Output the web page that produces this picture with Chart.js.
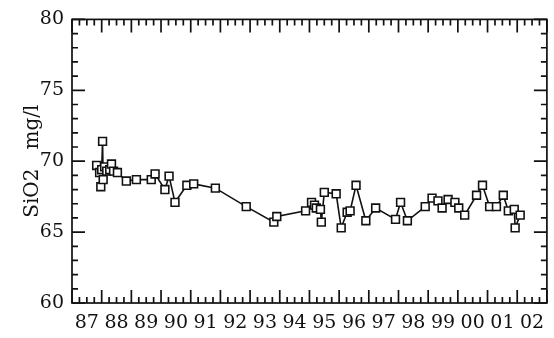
<!DOCTYPE html>
<html>
<head>
<meta charset="utf-8">
<script src="https://cdn.jsdelivr.net/npm/chart.js@4"></script>
<style>
    html, body { margin: 0; padding: 0; background: #fff; }
</style>
</head>
<body>
<canvas id="sio2-chart" width="554" height="338"></canvas>
<script>
// --- Data ---
const SAMPLE_YEARS = [
    1987.83, 1987.93, 1987.97, 1988.00, 1988.03, 1988.05, 1988.10, 1988.17, 1988.27, 1988.33,
    1988.40, 1988.53, 1988.83, 1989.17, 1989.67, 1989.80, 1990.13, 1990.27, 1990.47, 1990.87,
    1991.10, 1991.83, 1992.87, 1993.80, 1993.90, 1994.87, 1995.07, 1995.17, 1995.23, 1995.37,
    1995.40, 1995.50, 1995.90, 1996.07, 1996.27, 1996.37, 1996.57, 1996.90, 1997.23, 1997.90,
    1998.07, 1998.30, 1998.90, 1999.13, 1999.33, 1999.47, 1999.67, 1999.90, 2000.03, 2000.23,
    2000.63, 2000.83, 2001.07, 2001.30, 2001.53, 2001.70, 2001.90, 2001.93, 2002.10
];
const SIO2_VALUES = [
    69.7, 69.2, 68.2, 69.4, 71.4, 68.7, 69.6, 69.3, 69.4, 69.8,
    69.3, 69.2, 68.6, 68.7, 68.7, 69.1, 68.0, 68.95, 67.1, 68.3,
    68.4, 68.1, 66.8, 65.7, 66.1, 66.5, 67.1, 66.9, 66.7, 66.6,
    65.7, 67.8, 67.7, 65.3, 66.4, 66.5, 68.3, 65.8, 66.7, 65.9,
    67.1, 65.8, 66.8, 67.4, 67.2, 66.7, 67.3, 67.1, 66.7, 66.2,
    67.6, 68.3, 66.8, 66.8, 67.6, 66.5, 66.6, 65.3, 66.2
];
const YEAR_LABELS = ['87', '88', '89', '90', '91', '92', '93', '94', '95', '96', '97', '98', '99', '00', '01', '02'];
const Y_TICKS = [60, 65, 70, 75, 80];

const X_MIN = 1987, X_MAX = 2003;
const Y_MIN = 60, Y_MAX = 80;
const MAJOR_LEN = 13, MINOR_LEN = 6;
const INK = '#111';
const FONT = { family: 'DejaVu Serif', size: 19 };

// Box frame with inward ticks on all four sides
const frameTicks = {
    id: 'frameTicks',
    beforeDatasetsDraw(chart) {
        const { ctx, chartArea: a, scales: { x, y } } = chart;
        ctx.save();
        ctx.strokeStyle = INK;
        ctx.lineWidth = 1.7;
        ctx.strokeRect(a.left, a.top, a.right - a.left, a.bottom - a.top);
        ctx.beginPath();
        // quarter-year ticks, long ones at year boundaries
        for (let q = 0; q <= (X_MAX - X_MIN) * 4; q++) {
            const px = x.getPixelForValue(X_MIN + q / 4);
            const len = q % 4 === 0 ? MAJOR_LEN : MINOR_LEN;
            ctx.moveTo(px, a.bottom); ctx.lineTo(px, a.bottom - len);
            ctx.moveTo(px, a.top); ctx.lineTo(px, a.top + len);
        }
        // unit ticks, long ones every 5
        for (let v = Y_MIN; v <= Y_MAX; v++) {
            const py = y.getPixelForValue(v);
            const len = Y_TICKS.includes(v) ? MAJOR_LEN : MINOR_LEN;
            ctx.moveTo(a.left, py); ctx.lineTo(a.left + len, py);
            ctx.moveTo(a.right, py); ctx.lineTo(a.right - len, py);
        }
        ctx.stroke();
        ctx.restore();
    }
};

const ctx = document.getElementById('sio2-chart').getContext('2d');
new Chart(ctx, {
    type: 'line',
    data: {
        datasets: [{
            data: SAMPLE_YEARS.map((yr, i) => ({ x: yr, y: SIO2_VALUES[i] })),
            borderColor: INK,
            borderWidth: 1.6,
            tension: 0,
            pointStyle: 'rect',
            pointRadius: 5.5,
            pointBorderWidth: 1.6,
            pointBorderColor: INK,
            pointBackgroundColor: '#fff'
        }]
    },
    options: {
        responsive: false,
        animation: false,
        devicePixelRatio: 1,
        layout: { padding: { top: 17, right: 4, left: 0, bottom: 0 } },
        plugins: { legend: { display: false }, tooltip: { enabled: false } },
        scales: {
            x: {
                type: 'linear',
                min: X_MIN,
                max: X_MAX,
                grid: { display: false, drawTicks: false },
                border: { display: false },
                afterBuildTicks: s => { s.ticks = YEAR_LABELS.map((l, i) => ({ value: X_MIN + 0.5 + i })); },
                afterFit: s => { s.height = 35; },
                ticks: {
                    autoSkip: false,
                    maxRotation: 0,
                    padding: 9,
                    color: INK,
                    font: FONT,
                    callback: v => YEAR_LABELS[Math.round(v - X_MIN - 0.5)]
                }
            },
            y: {
                min: Y_MIN,
                max: Y_MAX,
                grid: { display: false, drawTicks: false },
                border: { display: false },
                afterBuildTicks: s => { s.ticks = Y_TICKS.map(v => ({ value: v })); },
                afterFit: s => { s.width = 72; },
                ticks: { padding: 8, color: INK, font: FONT },
                title: {
                    display: true,
                    text: 'SiO2   mg/l',
                    color: INK,
                    font: { family: 'DejaVu Serif', size: 20 },
                    padding: { top: 21, bottom: 0 }
                }
            }
        }
    },
    plugins: [frameTicks]
});
</script>
</body>
</html>
